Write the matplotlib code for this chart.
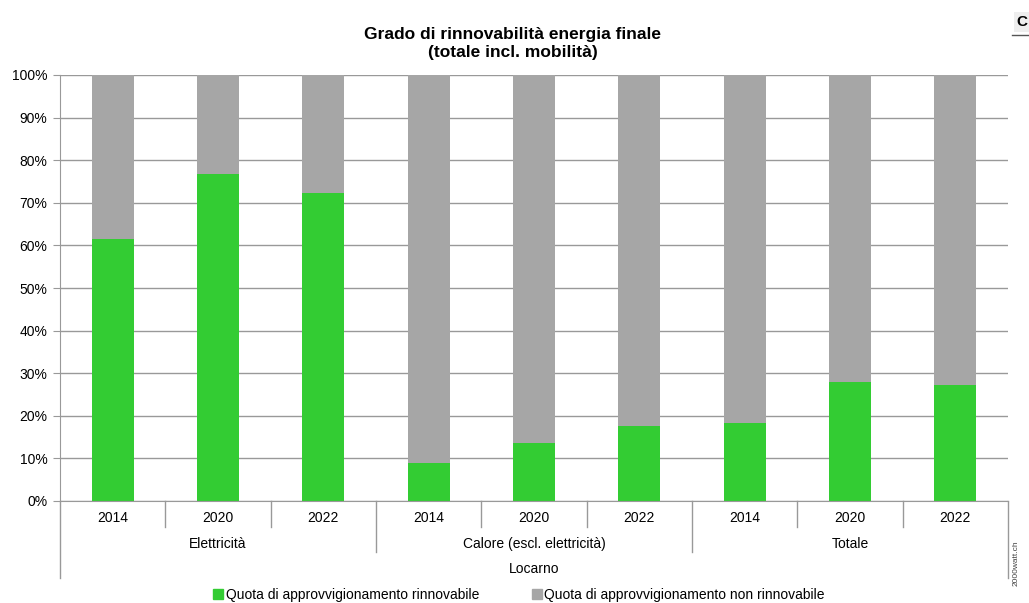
import numpy as np
import matplotlib.pyplot as plt
from matplotlib.patches import Patch
from matplotlib.transforms import blended_transform_factory

plt.rcParams['font.family'] = ['Liberation Sans', 'DejaVu Sans']

# data
years = ['2014', '2020', '2022']
groups = ['Elettricità', 'Calore (escl. elettricità)', 'Totale']
place = 'Locarno'
renewable = [61.5, 76.8, 72.3, 8.9, 13.6, 17.6, 18.3, 27.9, 27.2]
non_renewable = [100 - v for v in renewable]

green = '#33cc33'
grey = '#a6a6a6'
line_c = '#999999'

W, H = 1029, 603
fig = plt.figure(figsize=(W / 100, H / 100), dpi=100)
ax = fig.add_axes([60 / W, (H - 501) / H, 948 / W, 426 / H])

x = np.arange(len(renewable))
ax.bar(x, renewable, width=0.4, color=green, zorder=2)
ax.bar(x, non_renewable, width=0.4, bottom=renewable, color=grey, zorder=2)

ax.set_xlim(-0.5, len(renewable) - 0.5)
ax.set_ylim(0, 100)
ax.set_yticks(np.arange(0, 101, 10))
ax.set_yticklabels([f'{v}%' for v in range(0, 101, 10)], fontsize=10)
ax.yaxis.grid(True, color=line_c, linewidth=1, zorder=0)
ax.tick_params(axis='y', length=5, color=line_c, pad=4)
ax.set_xticks([])
for s in ['top', 'right']:
    ax.spines[s].set_visible(False)
for s in ['left', 'bottom']:
    ax.spines[s].set_color(line_c)

# two-line title
fig.text(513 / W, 1 - 34 / H, 'Grado di rinnovabilità energia finale',
         fontsize=12.5, fontweight='bold', ha='center', va='center')
fig.text(513 / W, 1 - 53 / H, '(totale incl. mobilità)',
         fontsize=12.5, fontweight='bold', ha='center', va='center')

# multi-level category axis
tr = blended_transform_factory(ax.transData, ax.transAxes)
n_years = len(years)
for i in range(len(renewable) + 1):
    xs = i - 0.5
    if i == 0 or i == len(renewable):
        y_end = -0.181
    elif i % n_years == 0:
        y_end = -0.12
    else:
        y_end = -0.061
    ax.plot([xs, xs], [0, y_end], color=line_c, lw=1, transform=tr, clip_on=False)

for i in range(len(renewable)):
    ax.text(i, -0.04, years[i % n_years], transform=tr, ha='center', va='center', fontsize=10)
for g, name in enumerate(groups):
    ax.text(g * n_years + 1, -0.101, name, transform=tr, ha='center', va='center', fontsize=10)
ax.text((len(renewable) - 1) / 2, -0.16, place, transform=tr, ha='center', va='center', fontsize=10)

handles = [Patch(color=green, label='Quota di approvvigionamento rinnovabile'),
           Patch(color=grey, label='Quota di approvvigionamento non rinnovabile')]
fig.legend(handles=handles, loc='center', bbox_to_anchor=(519 / W, 1 - 595 / H), ncol=2,
           frameon=False, fontsize=10, handlelength=0.7, handleheight=0.7,
           handletextpad=0.2, columnspacing=3.8)

fig.text(1016 / W, 1 - 563 / H, '2000watt.ch', rotation=90, fontsize=6,
         ha='center', va='center', color='#444444')
fig.text(1022 / W, 1 - 22 / H, 'C', fontsize=11, fontweight='bold', ha='center', va='center',
         bbox=dict(facecolor='#eeeeee', edgecolor='none', pad=2))
fig.add_artist(plt.Line2D([1012 / W, 1029 / W], [1 - 35 / H, 1 - 35 / H], color='#555555', lw=1))

fig.savefig('out.png', dpi=100, facecolor='white')
